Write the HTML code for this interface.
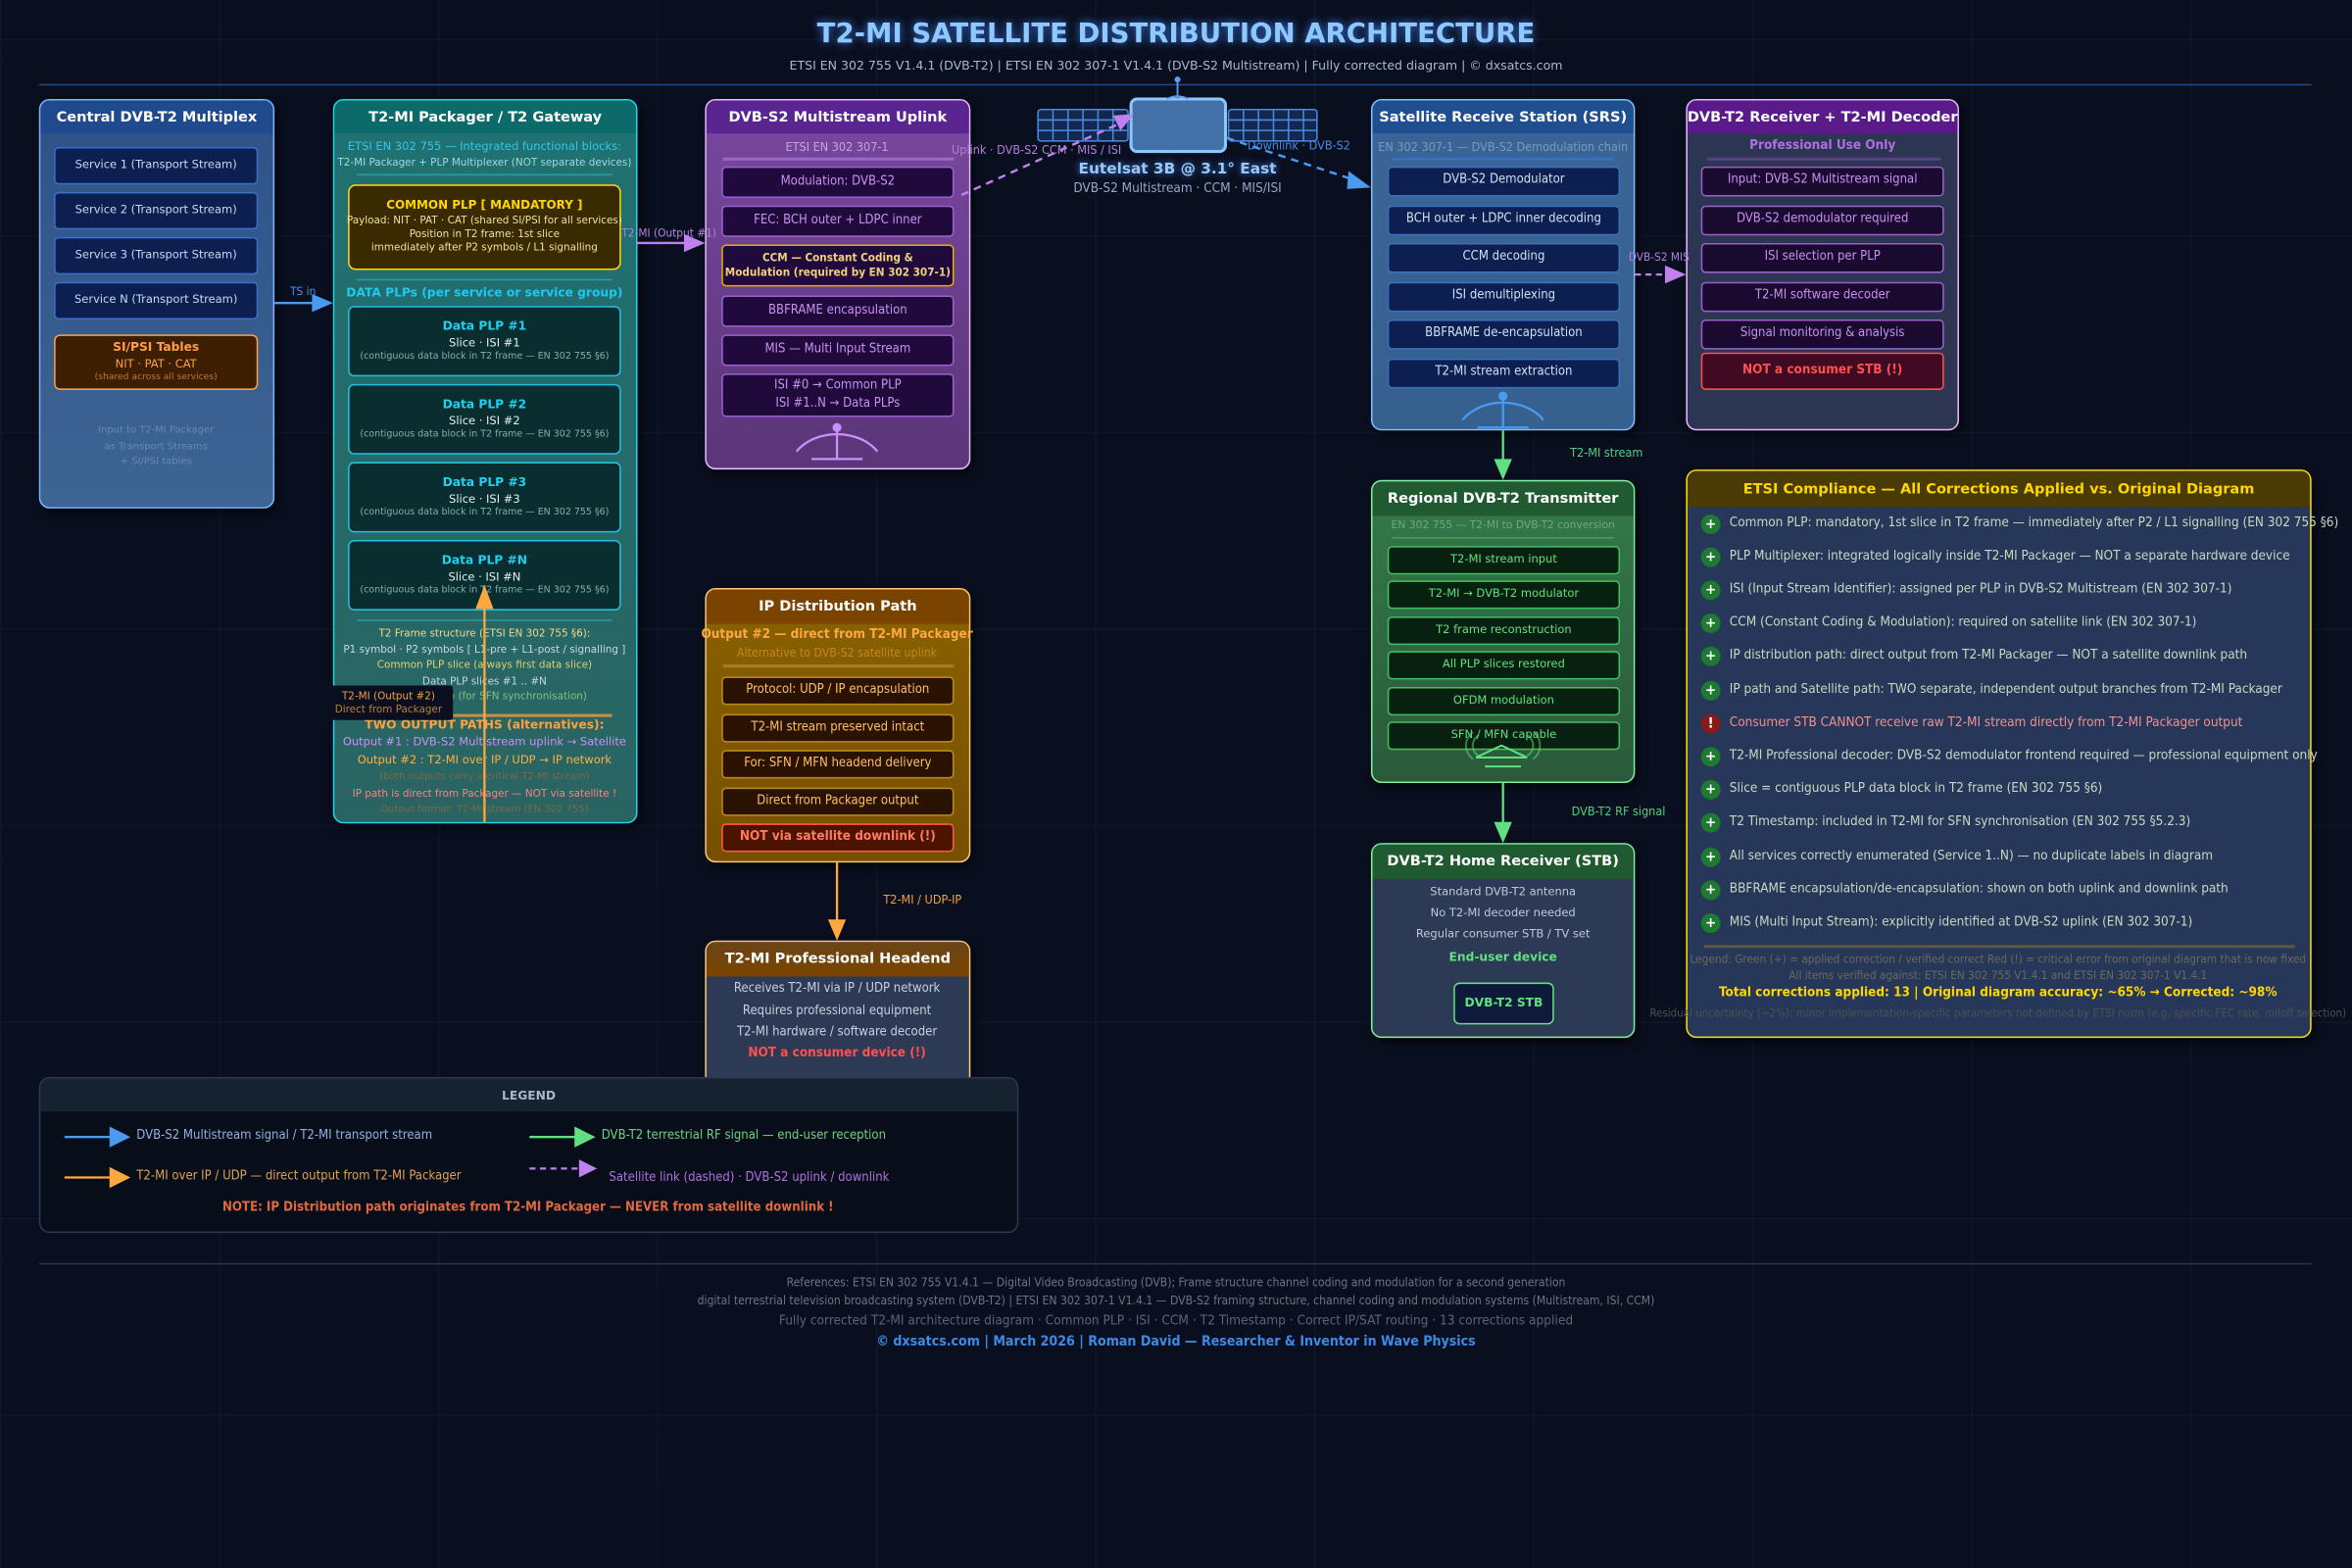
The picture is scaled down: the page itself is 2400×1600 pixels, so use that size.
<!DOCTYPE html>
<html><head><meta charset="utf-8"><style>
html,body{margin:0;padding:0;background:#0a0f1f;}
#w{width:2400px;height:1600px;overflow:hidden;position:relative;background:#0a0f1f;}
#s{position:absolute;left:0;top:0;width:1568px;height:1046px;transform:scale(1.530612);transform-origin:0 0;font-family:"DejaVu Sans","Liberation Sans",sans-serif;
background-image:linear-gradient(rgba(40,60,90,.18) 1px,transparent 1px),linear-gradient(90deg,rgba(40,60,90,.18) 1px,transparent 1px);background-size:146px 131px;background-position:0 26px;}
.c{position:absolute;white-space:nowrap;transform:translate(-50%,-50%);line-height:1.1;}
.cd{font-family:"DejaVu Sans Condensed","DejaVu Sans",sans-serif;}
.bx{position:absolute;box-sizing:border-box;border-radius:7px;border:1.5px solid;overflow:hidden;box-shadow:2px 3px 6px rgba(0,0,0,.6);}
.hd{position:absolute;left:0;top:0;right:0;height:22px;display:flex;align-items:center;justify-content:center;color:#fff;font-weight:bold;font-size:9.5px;white-space:nowrap;}
.b{position:absolute;box-sizing:border-box;display:flex;flex-direction:column;align-items:center;justify-content:center;text-align:center;border-radius:3px;border:1px solid;white-space:nowrap;line-height:1.35;}
.ic{position:absolute;width:13px;height:13px;border-radius:50%;background:#1e7a30;color:#fff;font-size:9px;font-weight:bold;display:flex;align-items:center;justify-content:center;}
.et{position:absolute;left:1153px;color:#c8d8c0;font-size:8.8px;white-space:nowrap;transform:translateY(-50%);}
</style></head><body><div id="w"><div id="s">

<div class="c" style="left:784px;top:23px;font-size:18px;font-weight:bold;color:#8ec8ff;text-shadow:0 0 6px #3a7adf;">T2-MI SATELLITE DISTRIBUTION ARCHITECTURE</div>
<div class="c" style="left:784px;top:44px;font-size:8.2px;color:#a8b8d0;">ETSI EN 302 755 V1.4.1 (DVB-T2) | ETSI EN 302 307-1 V1.4.1 (DVB-S2 Multistream) | Fully corrected diagram | © dxsatcs.com</div>
<div style="position:absolute;left:26px;top:56px;width:1515px;height:1px;background:#1e4a80;"></div>

<div class="bx" style="left:26px;top:66px;width:157px;height:273px;border-color:#80b4ff;background:linear-gradient(#2e5288,#3d6594);">
<div class="hd" style="background:#1f4a8e;">Central DVB-T2 Multiplex</div></div>
<div class="b" style="left:36px;top:98px;width:136px;height:25px;background:#0d1f50;border-color:#3a6fc8;color:#c8d8f0;font-size:7.5px;">Service 1 (Transport Stream)</div>
<div class="b" style="left:36px;top:128px;width:136px;height:25px;background:#0d1f50;border-color:#3a6fc8;color:#c8d8f0;font-size:7.5px;">Service 2 (Transport Stream)</div>
<div class="b" style="left:36px;top:158px;width:136px;height:25px;background:#0d1f50;border-color:#3a6fc8;color:#c8d8f0;font-size:7.5px;">Service 3 (Transport Stream)</div>
<div class="b" style="left:36px;top:188px;width:136px;height:25px;background:#0d1f50;border-color:#3a6fc8;color:#c8d8f0;font-size:7.5px;">Service N (Transport Stream)</div>
<div class="b" style="left:36px;top:223px;width:136px;height:37px;background:#3d1e00;border:1.5px solid #ffa040;border-radius:4px;font-size:7.5px;color:#ffa040;overflow:hidden;"><b style="font-size:8px">SI/PSI Tables</b><span>NIT · PAT · CAT</span><span style="font-size:6px;color:#c07830;">(shared across all services)</span></div>
<div class="c" style="left:104px;top:287px;font-size:6.5px;color:#6a88b0;">Input to T2-MI Packager</div>
<div class="c" style="left:104px;top:298px;font-size:6.5px;color:#6a88b0;">as Transport Streams</div>
<div class="c" style="left:104px;top:308px;font-size:6.5px;color:#6a88b0;">+ SI/PSI tables</div>

<div class="bx" style="left:222px;top:66px;width:203px;height:483px;border-color:#22d8e8;background:linear-gradient(#1f7272,#2a6462);">
<div class="hd" style="background:#0d6a6a;">T2-MI Packager / T2 Gateway</div></div>
<div class="c" style="left:323px;top:98px;font-size:7.5px;color:#30c8e8;">ETSI EN 302 755 — Integrated functional blocks:</div>
<div class="c" style="left:323px;top:109px;font-size:6.8px;color:#a0d8e0;">T2-MI Packager + PLP Multiplexer (NOT separate devices)</div>
<div style="position:absolute;left:238px;top:116px;width:170px;height:1px;background:#2a9aa8;"></div>
<div class="b" style="left:232px;top:123px;width:182px;height:57px;background:#3a2a00;border:1.5px solid #ffd700;border-radius:5px;color:#f0e0a0;font-size:6.8px;"><b style="color:#ffd700;font-size:7.8px;">COMMON PLP [ MANDATORY ]</b><span>Payload: NIT · PAT · CAT (shared SI/PSI for all services)</span><span>Position in T2 frame: 1st slice</span><span>immediately after P2 symbols / L1 signalling</span></div>
<div style="position:absolute;left:238px;top:186px;width:170px;height:1px;background:#2a9aa8;"></div>
<div class="c" style="left:323px;top:196px;font-size:8px;font-weight:bold;color:#20c8f0;">DATA PLPs (per service or service group)</div>
<div class="b" style="left:232px;top:204px;width:182px;height:47px;background:#0a2e30;border:1.5px solid #20c0e0;border-radius:4px;color:#e0f0f0;font-size:7.5px;"><b style="color:#20d0f0;font-size:8px;">Data PLP #1</b><span>Slice · ISI #1</span><span style="font-size:6.2px;color:#80b0b0;">(contiguous data block in T2 frame — EN 302 755 §6)</span></div>
<div class="b" style="left:232px;top:256px;width:182px;height:47px;background:#0a2e30;border:1.5px solid #20c0e0;border-radius:4px;color:#e0f0f0;font-size:7.5px;"><b style="color:#20d0f0;font-size:8px;">Data PLP #2</b><span>Slice · ISI #2</span><span style="font-size:6.2px;color:#80b0b0;">(contiguous data block in T2 frame — EN 302 755 §6)</span></div>
<div class="b" style="left:232px;top:308px;width:182px;height:47px;background:#0a2e30;border:1.5px solid #20c0e0;border-radius:4px;color:#e0f0f0;font-size:7.5px;"><b style="color:#20d0f0;font-size:8px;">Data PLP #3</b><span>Slice · ISI #3</span><span style="font-size:6.2px;color:#80b0b0;">(contiguous data block in T2 frame — EN 302 755 §6)</span></div>
<div class="b" style="left:232px;top:360px;width:182px;height:47px;background:#0a2e30;border:1.5px solid #20c0e0;border-radius:4px;color:#e0f0f0;font-size:7.5px;"><b style="color:#20d0f0;font-size:8px;">Data PLP #N</b><span>Slice · ISI #N</span><span style="font-size:6.2px;color:#80b0b0;">(contiguous data block in T2 frame — EN 302 755 §6)</span></div>
<div style="position:absolute;left:238px;top:413px;width:170px;height:1px;background:#2a9aa8;"></div>
<div class="c" style="left:323px;top:423px;font-size:6.8px;color:#f0d890;">T2 Frame structure (ETSI EN 302 755 §6):</div>
<div class="c" style="left:323px;top:434px;font-size:6.8px;color:#c8d8e0;">P1 symbol · P2 symbols [ L1-pre + L1-post / signalling ]</div>
<div class="c" style="left:323px;top:444px;font-size:6.8px;color:#e0d070;">Common PLP slice (always first data slice)</div>
<div class="c" style="left:323px;top:455px;font-size:6.8px;color:#c8d8e0;">Data PLP slices #1 .. #N</div>
<div class="c" style="left:323px;top:465px;font-size:6.8px;color:#80c080;">T2 Timestamp (for SFN synchronisation)</div>
<div style="position:absolute;left:238px;top:476px;width:170px;height:1.5px;background:#c89040;"></div>
<div class="c" style="left:323px;top:484px;font-size:8px;font-weight:bold;color:#ffa040;">TWO OUTPUT PATHS (alternatives):</div>
<div class="c" style="left:323px;top:495px;font-size:7.5px;color:#c890f8;">Output #1 : DVB-S2 Multistream uplink → Satellite</div>
<div class="c" style="left:323px;top:507px;font-size:7.5px;color:#ffb040;">Output #2 : T2-MI over IP / UDP → IP network</div>
<div class="c" style="left:323px;top:518px;font-size:6.5px;color:#7a6a40;">(both outputs carry identical T2-MI stream)</div>
<div class="c" style="left:323px;top:530px;font-size:6.8px;color:#ff8080;">IP path is direct from Packager — NOT via satellite !</div>
<div class="c" style="left:323px;top:540px;font-size:6.5px;color:#7a6a40;">Output format: T2-MI stream (EN 302 755)</div>

<div class="bx" style="left:470px;top:66px;width:177px;height:247px;border-color:#e8b8ff;background:linear-gradient(#7a48a0,#5a3578);">
<div class="hd" style="background:#5a2590;">DVB-S2 Multistream Uplink</div></div>
<div class="c cd" style="left:558px;top:98px;font-size:8.2px;color:#c8a0e8;">ETSI EN 302 307-1</div>
<div style="position:absolute;left:482px;top:105px;width:154px;height:1.5px;background:#9a68c8;"></div>
<div class="b cd" style="left:481px;top:111px;width:155px;height:21px;background:#200a3c;border-color:#9a60d0;color:#c890f0;font-size:8.5px;">Modulation: DVB-S2</div>
<div class="b cd" style="left:481px;top:137px;width:155px;height:21px;background:#200a3c;border-color:#9a60d0;color:#c890f0;font-size:8.5px;">FEC: BCH outer + LDPC inner</div>
<div class="b cd" style="left:481px;top:163px;width:155px;height:28px;background:#200a3c;border:1.5px solid #e0b000;color:#f0d080;font-size:7.6px;font-weight:bold;">CCM — Constant Coding &amp;<br>Modulation (required by EN 302 307-1)</div>
<div class="b cd" style="left:481px;top:197px;width:155px;height:21px;background:#200a3c;border-color:#9a60d0;color:#c890f0;font-size:8.5px;">BBFRAME encapsulation</div>
<div class="b cd" style="left:481px;top:223px;width:155px;height:21px;background:#200a3c;border-color:#9a60d0;color:#c890f0;font-size:8.5px;">MIS — Multi Input Stream</div>
<div class="b cd" style="left:481px;top:249px;width:155px;height:29px;background:#200a3c;border-color:#9a60d0;color:#c890f0;font-size:8.5px;">ISI #0 → Common PLP<br>ISI #1..N → Data PLPs</div>

<div class="bx" style="left:914px;top:66px;width:176px;height:221px;border-color:#80c0ff;background:linear-gradient(#3a6596,#36608e);">
<div class="hd" style="background:#1f4f8f;">Satellite Receive Station (SRS)</div></div>
<div class="c cd" style="left:1002px;top:98px;font-size:8.2px;color:#7a9ac0;">EN 302 307-1 — DVB-S2 Demodulation chain</div>
<div style="position:absolute;left:928px;top:105px;width:148px;height:1.5px;background:#3a70c0;"></div>
<div class="b cd" style="left:925px;top:111px;width:155px;height:20px;background:#0d1f50;border-color:#3a70c0;color:#d0e0f0;font-size:8.5px;">DVB-S2 Demodulator</div>
<div class="b cd" style="left:925px;top:137px;width:155px;height:20px;background:#0d1f50;border-color:#3a70c0;color:#d0e0f0;font-size:8.5px;">BCH outer + LDPC inner decoding</div>
<div class="b cd" style="left:925px;top:162px;width:155px;height:20px;background:#0d1f50;border-color:#3a70c0;color:#d0e0f0;font-size:8.5px;">CCM decoding</div>
<div class="b cd" style="left:925px;top:188px;width:155px;height:20px;background:#0d1f50;border-color:#3a70c0;color:#d0e0f0;font-size:8.5px;">ISI demultiplexing</div>
<div class="b cd" style="left:925px;top:213px;width:155px;height:20px;background:#0d1f50;border-color:#3a70c0;color:#d0e0f0;font-size:8.5px;">BBFRAME de-encapsulation</div>
<div class="b cd" style="left:925px;top:239px;width:155px;height:20px;background:#0d1f50;border-color:#3a70c0;color:#d0e0f0;font-size:8.5px;">T2-MI stream extraction</div>

<div class="bx" style="left:1124px;top:66px;width:182px;height:221px;border-color:#e8b8ff;background:#2c3552;">
<div class="hd" style="background:#5a1a8a;">DVB-T2 Receiver + T2-MI Decoder</div></div>
<div class="c cd" style="left:1215px;top:98px;font-size:8.8px;font-weight:bold;color:#b070e0;">Professional Use Only</div>
<div style="position:absolute;left:1138px;top:105px;width:156px;height:1.5px;background:#5a4080;"></div>
<div class="b cd" style="left:1134px;top:111px;width:162px;height:20px;background:#1a0a30;border-color:#9a60c8;color:#c890f0;font-size:8.5px;">Input: DVB-S2 Multistream signal</div>
<div class="b cd" style="left:1134px;top:137px;width:162px;height:20px;background:#1a0a30;border-color:#9a60c8;color:#c890f0;font-size:8.5px;">DVB-S2 demodulator required</div>
<div class="b cd" style="left:1134px;top:162px;width:162px;height:20px;background:#1a0a30;border-color:#9a60c8;color:#c890f0;font-size:8.5px;">ISI selection per PLP</div>
<div class="b cd" style="left:1134px;top:188px;width:162px;height:20px;background:#1a0a30;border-color:#9a60c8;color:#c890f0;font-size:8.5px;">T2-MI software decoder</div>
<div class="b cd" style="left:1134px;top:213px;width:162px;height:20px;background:#1a0a30;border-color:#9a60c8;color:#c890f0;font-size:8.5px;">Signal monitoring &amp; analysis</div>
<div class="b cd" style="left:1134px;top:235px;width:162px;height:25px;background:#400a22;border:1.5px solid #ff5050;color:#ff5050;font-size:8.8px;font-weight:bold;">NOT a consumer STB (!)</div>

<div class="bx" style="left:914px;top:320px;width:176px;height:202px;border-color:#80f0a0;background:linear-gradient(#347a4a,#2a5a3a);">
<div class="hd" style="background:#1f5a30;height:23px;">Regional DVB-T2 Transmitter</div></div>
<div class="c" style="left:1002px;top:351px;font-size:7px;color:#70a880;">EN 302 755 — T2-MI to DVB-T2 conversion</div>
<div style="position:absolute;left:928px;top:358px;width:148px;height:1px;background:#40a060;"></div>
<div class="b" style="left:925px;top:364px;width:155px;height:19px;background:#082010;border-color:#40c060;color:#60e080;font-size:7.5px;">T2-MI stream input</div>
<div class="b" style="left:925px;top:387px;width:155px;height:19px;background:#082010;border-color:#40c060;color:#60e080;font-size:7.5px;">T2-MI → DVB-T2 modulator</div>
<div class="b" style="left:925px;top:411px;width:155px;height:19px;background:#082010;border-color:#40c060;color:#60e080;font-size:7.5px;">T2 frame reconstruction</div>
<div class="b" style="left:925px;top:434px;width:155px;height:19px;background:#082010;border-color:#40c060;color:#60e080;font-size:7.5px;">All PLP slices restored</div>
<div class="b" style="left:925px;top:458px;width:155px;height:19px;background:#082010;border-color:#40c060;color:#60e080;font-size:7.5px;">OFDM modulation</div>
<div class="b" style="left:925px;top:481px;width:155px;height:19px;background:#082010;border-color:#40c060;color:#60e080;font-size:7.5px;">SFN / MFN capable</div>

<div class="bx" style="left:914px;top:562px;width:176px;height:130px;border-color:#80f0a0;background:#2c3a55;">
<div class="hd" style="background:#1f5a30;height:23px;">DVB-T2 Home Receiver (STB)</div></div>
<div class="c" style="left:1002px;top:595px;font-size:7.5px;color:#c0c8d8;">Standard DVB-T2 antenna</div>
<div class="c" style="left:1002px;top:609px;font-size:7.5px;color:#c0c8d8;">No T2-MI decoder needed</div>
<div class="c" style="left:1002px;top:623px;font-size:7.5px;color:#c0c8d8;">Regular consumer STB / TV set</div>
<div class="c" style="left:1002px;top:639px;font-size:8px;font-weight:bold;color:#60e080;">End-user device</div>
<div class="b" style="left:969px;top:655px;width:67px;height:28px;background:#0d1a3a;border:1.5px solid #60e080;border-radius:4px;color:#60e080;font-size:8px;font-weight:bold;">DVB-T2 STB</div>

<div class="bx" style="left:1124px;top:313px;width:417px;height:379px;border-color:#ffe000;background:#27375a;">
<div class="hd" style="background:#4a3a05;color:#ffd700;height:24px;font-size:9.5px;">ETSI Compliance — All Corrections Applied vs. Original Diagram</div></div>
<div class="ic" style="left:1134px;top:343px;">+</div><div class="et cd" style="top:349px;">Common PLP: mandatory, 1st slice in T2 frame — immediately after P2 / L1 signalling (EN 302 755 §6)</div>
<div class="ic" style="left:1134px;top:365px;">+</div><div class="et cd" style="top:371px;">PLP Multiplexer: integrated logically inside T2-MI Packager — NOT a separate hardware device</div>
<div class="ic" style="left:1134px;top:387px;">+</div><div class="et cd" style="top:393px;">ISI (Input Stream Identifier): assigned per PLP in DVB-S2 Multistream (EN 302 307-1)</div>
<div class="ic" style="left:1134px;top:409px;">+</div><div class="et cd" style="top:415px;">CCM (Constant Coding &amp; Modulation): required on satellite link (EN 302 307-1)</div>
<div class="ic" style="left:1134px;top:431px;">+</div><div class="et cd" style="top:437px;">IP distribution path: direct output from T2-MI Packager — NOT a satellite downlink path</div>
<div class="ic" style="left:1134px;top:454px;">+</div><div class="et cd" style="top:460px;">IP path and Satellite path: TWO separate, independent output branches from T2-MI Packager</div>
<div class="ic" style="left:1134px;top:476px;background:#8a1a1a;">!</div><div class="et cd" style="top:482px;color:#f09090;">Consumer STB CANNOT receive raw T2-MI stream directly from T2-MI Packager output</div>
<div class="ic" style="left:1134px;top:498px;">+</div><div class="et cd" style="top:504px;">T2-MI Professional decoder: DVB-S2 demodulator frontend required — professional equipment only</div>
<div class="ic" style="left:1134px;top:520px;">+</div><div class="et cd" style="top:526px;">Slice = contiguous PLP data block in T2 frame (EN 302 755 §6)</div>
<div class="ic" style="left:1134px;top:542px;">+</div><div class="et cd" style="top:548px;">T2 Timestamp: included in T2-MI for SFN synchronisation (EN 302 755 §5.2.3)</div>
<div class="ic" style="left:1134px;top:565px;">+</div><div class="et cd" style="top:571px;">All services correctly enumerated (Service 1..N) — no duplicate labels in diagram</div>
<div class="ic" style="left:1134px;top:587px;">+</div><div class="et cd" style="top:593px;">BBFRAME encapsulation/de-encapsulation: shown on both uplink and downlink path</div>
<div class="ic" style="left:1134px;top:609px;">+</div><div class="et cd" style="top:615px;">MIS (Multi Input Stream): explicitly identified at DVB-S2 uplink (EN 302 307-1)</div>
<div style="position:absolute;left:1136px;top:630px;width:394px;height:1.5px;background:#5a5a40;"></div>
<div class="c cd" style="left:1332px;top:640px;font-size:7.7px;color:#6a6a58;">Legend: Green (+) = applied correction / verified correct Red (!) = critical error from original diagram that is now fixed</div>
<div class="c cd" style="left:1332px;top:651px;font-size:7.7px;color:#6a6a58;">All items verified against: ETSI EN 302 755 V1.4.1 and ETSI EN 302 307-1 V1.4.1</div>
<div class="c cd" style="left:1332px;top:663px;font-size:8.8px;font-weight:bold;color:#ffd700;">Total corrections applied: 13 | Original diagram accuracy: ~65% → Corrected: ~98%</div>
<div class="c cd" style="left:1332px;top:676px;font-size:7.5px;color:#4e5050;">Residual uncertainty (~2%): minor implementation-specific parameters not defined by ETSI norm (e.g. specific FEC rate, rolloff selection)</div>

<div class="bx" style="left:470px;top:392px;width:177px;height:183px;border-color:#ffc870;background:linear-gradient(#8a6200,#765000);">
<div class="hd" style="background:#7a4400;height:23px;">IP Distribution Path</div></div>
<div class="c cd" style="left:558px;top:424px;font-size:8.8px;font-weight:bold;color:#ffa840;">Output #2 — direct from T2-MI Packager</div>
<div class="c cd" style="left:558px;top:436px;font-size:8px;color:#c08820;">Alternative to DVB-S2 satellite uplink</div>
<div style="position:absolute;left:482px;top:443px;width:154px;height:1.5px;background:#b07a20;"></div>
<div class="b cd" style="left:481px;top:451px;width:155px;height:19px;background:#2a1200;border-color:#c08820;color:#ffc060;font-size:8.5px;">Protocol: UDP / IP encapsulation</div>
<div class="b cd" style="left:481px;top:476px;width:155px;height:19px;background:#2a1200;border-color:#c08820;color:#ffc060;font-size:8.5px;">T2-MI stream preserved intact</div>
<div class="b cd" style="left:481px;top:500px;width:155px;height:19px;background:#2a1200;border-color:#c08820;color:#ffc060;font-size:8.5px;">For: SFN / MFN headend delivery</div>
<div class="b cd" style="left:481px;top:525px;width:155px;height:19px;background:#2a1200;border-color:#c08820;color:#ffc060;font-size:8.5px;">Direct from Packager output</div>
<div class="b cd" style="left:481px;top:549px;width:155px;height:19px;background:#4a1400;border:1.5px solid #ff5a40;color:#ff7a60;font-size:8.8px;font-weight:bold;">NOT via satellite downlink (!)</div>

<div class="bx" style="left:470px;top:627px;width:177px;height:110px;border-color:#ffc870;background:#2c3a55;">
<div class="hd" style="background:linear-gradient(#6a4418,#7a4400);height:23px;">T2-MI Professional Headend</div></div>
<div class="c cd" style="left:558px;top:660px;font-size:8.5px;color:#c8d0e0;">Receives T2-MI via IP / UDP network</div>
<div class="c cd" style="left:558px;top:675px;font-size:8.5px;color:#c8d0e0;">Requires professional equipment</div>
<div class="c cd" style="left:558px;top:689px;font-size:8.5px;color:#c8d0e0;">T2-MI hardware / software decoder</div>
<div class="c cd" style="left:558px;top:703px;font-size:8.8px;font-weight:bold;color:#ff5050;">NOT a consumer device (!)</div>

<div class="bx" style="left:26px;top:718px;width:653px;height:104px;border-color:#2a3a50;background:#080d1a;box-shadow:none;border-width:1px;">
<div class="hd" style="background:#162230;color:#a8b8c8;font-size:8px;height:22px;">LEGEND</div></div>
<div class="c cd" style="left:91px;top:758px;transform:translateY(-50%);font-size:8.5px;color:#90b0e0;">DVB-S2 Multistream signal / T2-MI transport stream</div>
<div class="c cd" style="left:91px;top:785px;transform:translateY(-50%);font-size:8.5px;color:#e0a050;">T2-MI over IP / UDP — direct output from T2-MI Packager</div>
<div class="c cd" style="left:401px;top:758px;transform:translateY(-50%);font-size:8.5px;color:#70d080;">DVB-T2 terrestrial RF signal — end-user reception</div>
<div class="c cd" style="left:406px;top:786px;transform:translateY(-50%);font-size:8.5px;color:#b070e0;">Satellite link (dashed) · DVB-S2 uplink / downlink</div>
<div class="c cd" style="left:352px;top:806px;font-size:8.6px;font-weight:bold;color:#e06a40;">NOTE: IP Distribution path originates from T2-MI Packager — NEVER from satellite downlink !</div>

<div style="position:absolute;left:26px;top:842px;width:1515px;height:1px;background:#2a3448;"></div>
<div class="c cd" style="left:784px;top:856px;font-size:7.9px;color:#6a7488;">References: ETSI EN 302 755 V1.4.1 — Digital Video Broadcasting (DVB); Frame structure channel coding and modulation for a second generation</div>
<div class="c cd" style="left:784px;top:868px;font-size:7.9px;color:#6a7488;">digital terrestrial television broadcasting system (DVB-T2) | ETSI EN 302 307-1 V1.4.1 — DVB-S2 framing structure, channel coding and modulation systems (Multistream, ISI, CCM)</div>
<div class="c cd" style="left:784px;top:882px;font-size:8.9px;color:#5a6478;">Fully corrected T2-MI architecture diagram · Common PLP · ISI · CCM · T2 Timestamp · Correct IP/SAT routing · 13 corrections applied</div>
<div class="c cd" style="left:784px;top:895px;font-size:9.2px;font-weight:bold;color:#3a8ae8;">© dxsatcs.com | March 2026 | Roman David — Researcher &amp; Inventor in Wave Physics</div>

<div class="c" style="left:785px;top:113px;font-size:10px;font-weight:bold;color:#9ac8f0;text-shadow:0 0 5px #3a7adf;">Eutelsat 3B @ 3.1° East</div>
<div class="c cd" style="left:785px;top:127px;font-size:8.8px;color:#90a8c8;">DVB-S2 Multistream · CCM · MIS/ISI</div>
<div class="c cd" style="left:691px;top:100px;font-size:8.2px;color:#b080d8;">Uplink · DVB-S2 CCM · MIS / ISI</div>
<div class="c cd" style="left:866px;top:97px;font-size:8.2px;color:#4a8ae0;">Downlink · DVB-S2</div>
<div class="c cd" style="left:202px;top:195px;font-size:7.7px;color:#4a90f0;">TS in</div>
<div class="c cd" style="left:446px;top:156px;font-size:7.7px;color:#b080e0;">T2-MI (Output #1)</div>
<div class="c cd" style="left:1106px;top:172px;font-size:7.7px;color:#b080e0;">DVB-S2 MIS</div>
<div class="c cd" style="left:1071px;top:302px;font-size:8.2px;color:#50d080;">T2-MI stream</div>
<div class="c cd" style="left:1079px;top:541px;font-size:8.2px;color:#50d080;">DVB-T2 RF signal</div>
<div class="c cd" style="left:615px;top:600px;font-size:8.2px;color:#f0a040;">T2-MI / UDP-IP</div>

<svg style="position:absolute;left:0;top:0;" width="1568" height="1046" viewBox="0 0 1568 1046">
<g stroke="#4a8ae0" stroke-width="1" fill="#12284e">
<rect x="692" y="73" width="60" height="21" rx="2"/><rect x="819" y="73" width="59" height="21" rx="2"/>
<path d="M702 73v21M712 73v21M722 73v21M732 73v21M742 73v21M692 80h60M692 87h60M829 73v21M839 73v21M849 73v21M859 73v21M869 73v21M819 80h59M819 87h59" fill="none"/>
</g>
<rect x="754" y="66" width="63" height="35" rx="4" fill="#4470a8" stroke="#8ac8ff" stroke-width="2"/>
<path d="M778 66 a12 10 0 0 1 14 0" fill="none" stroke="#5a9af0" stroke-width="1.2"/>
<line x1="785" y1="53" x2="785" y2="66" stroke="#5a9af0" stroke-width="1.2"/><circle cx="785" cy="53" r="2" fill="#5a9af0"/>
<g stroke="#c890f8" stroke-width="1.5" fill="none"><path d="M531 301a32 25 0 0 1 54 0"/><line x1="558" y1="285" x2="558" y2="306"/><line x1="541" y1="306" x2="575" y2="306"/></g><circle cx="558" cy="285" r="3" fill="#c890f8"/>
<g stroke="#4a9af0" stroke-width="1.5" fill="none"><path d="M975 280a32 25 0 0 1 54 0"/><line x1="1002" y1="264" x2="1002" y2="285"/><line x1="985" y1="285" x2="1019" y2="285"/></g><circle cx="1002" cy="264" r="3" fill="#4a9af0"/>
<g stroke="#60e080" stroke-width="1.3" fill="none"><path d="M984 505h34l-17-8z"/><line x1="990" y1="511" x2="1014" y2="511"/><path d="M986 490a8 8 0 0 0 0 14M982 488a11 11 0 0 0 0 18M1018 490a8 8 0 0 1 0 14M1022 488a11 11 0 0 1 0 18" stroke-opacity=".5"/></g>
<line x1="183" y1="202" x2="210" y2="202" stroke="#4a9af0" stroke-width="1.5"/><path d="M208 196l14 6-14 6z" fill="#4a9af0"/>
<line x1="424" y1="162" x2="458" y2="162" stroke="#c080f0" stroke-width="1.5"/><path d="M456 156l14 6-14 6z" fill="#c080f0"/>
<line x1="323" y1="548" x2="323" y2="404" stroke="#ffa840" stroke-width="1.5"/><path d="M317 406l6-16 6 16z" fill="#ffa840"/>
<line x1="641" y1="130" x2="745" y2="83" stroke="#c080f0" stroke-width="1.6" stroke-dasharray="5,4"/><path d="M742 77l14 -1-9 11z" fill="#c080f0"/>
<line x1="818" y1="92" x2="903" y2="120" stroke="#4a9af0" stroke-width="1.6" stroke-dasharray="5,4"/><path d="M899 114l15 11-16 1z" fill="#4a9af0"/>
<line x1="1090" y1="183" x2="1112" y2="183" stroke="#c080f0" stroke-width="1.5" stroke-dasharray="4,3"/><path d="M1110 177l14 6-14 6z" fill="#c080f0"/>
<line x1="1002" y1="287" x2="1002" y2="308" stroke="#60e080" stroke-width="1.5"/><path d="M996 306l6 14 6-14z" fill="#60e080"/>
<line x1="1002" y1="522" x2="1002" y2="550" stroke="#60e080" stroke-width="1.5"/><path d="M996 548l6 14 6-14z" fill="#60e080"/>
<line x1="558" y1="575" x2="558" y2="615" stroke="#ffa840" stroke-width="1.5"/><path d="M552 613l6 14 6-14z" fill="#ffa840"/>
<line x1="43" y1="758" x2="74" y2="758" stroke="#4a9af0" stroke-width="1.5"/><path d="M73 751l14 7-14 7z" fill="#4a9af0"/>
<line x1="43" y1="785" x2="74" y2="785" stroke="#ffa840" stroke-width="1.5"/><path d="M73 778l14 7-14 7z" fill="#ffa840"/>
<line x1="353" y1="758" x2="384" y2="758" stroke="#60e080" stroke-width="1.5"/><path d="M383 751l14 7-14 7z" fill="#60e080"/>
<line x1="353" y1="779" x2="386" y2="779" stroke="#c080f0" stroke-width="1.5" stroke-dasharray="4,3"/><path d="M386 773l12 6-12 6z" fill="#c080f0"/>
</svg>
<div class="b" style="left:216px;top:457px;width:86px;height:23px;background:#0a0f1f;border:none;border-radius:2px;font-size:6.8px;color:#f0a040;line-height:1.3;"><span>T2-MI (Output #2)</span><span style="color:#c08030;">Direct from Packager</span></div>
</div></div></body></html>
